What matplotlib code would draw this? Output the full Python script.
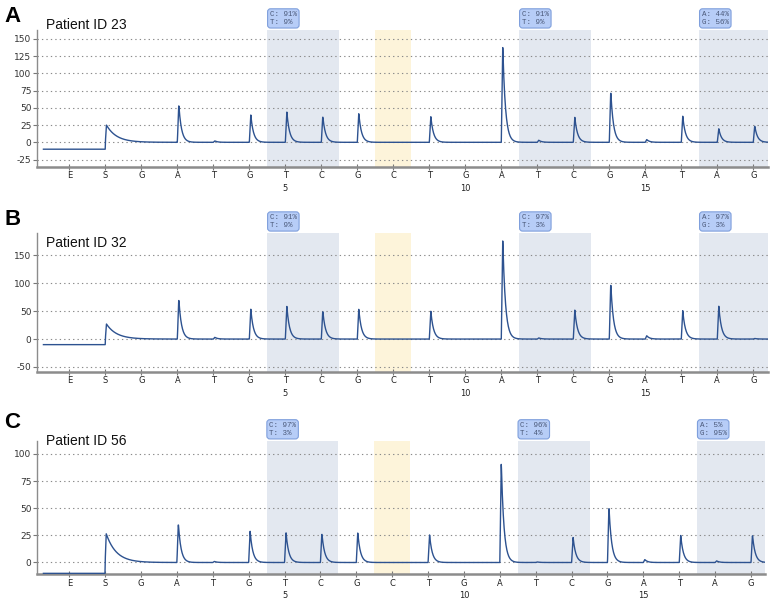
import numpy as np
import matplotlib
matplotlib.use("Agg")
import matplotlib.pyplot as plt
import matplotlib.transforms as mtransforms

# dispensation order (E = enzyme, S = substrate, then positions 1..18)
dispensation = ['E', 'S', 'G', 'A', 'T', 'G', 'T', 'C', 'G', 'C',
                'T', 'G', 'A', 'T', 'C', 'G', 'A', 'T', 'A', 'G']
disp_pos = list(range(-1, 19))
number_ticks = [5, 10, 15]

patients = ['Patient ID 23', 'Patient ID 32', 'Patient ID 56']
panel_letters = ['A', 'B', 'C']

# baseline before substrate and substrate peak
baseline_start = [-10, -10, -10]
substrate_peak = [25, 27, 26.5]

# peak heights at dispensations 1..18
peaks_23 = [0, 55, 2, 40, 45, 38, 42, 0, 38, 0, 140, 3, 37, 74, 4, 38, 20, 24]
peaks_32 = [0, 72, 3, 54, 60, 51, 54, 0, 51, 0, 179, 2, 53, 100, 6, 51, 60, 1]
peaks_56 = [0, 36, 1, 29, 28, 27, 27.5, 0, 26, 0, 92, 0.5, 23.5, 51.5, 2.7, 25, 1.5, 25.5]
all_peaks = [peaks_23, peaks_32, peaks_56]

# variable positions (gray) and bisulfite control (yellow)
var_spans = [(4.5, 6.5), (11.5, 13.5), (16.5, 18.5)]
ctrl_span = (7.5, 8.5)

labels_23 = ['C: 91%\nT: 9%', 'C: 91%\nT: 9%', 'A: 44%\nG: 56%']
labels_32 = ['C: 91%\nT: 9%', 'C: 97%\nT: 3%', 'A: 97%\nG: 3%']
labels_56 = ['C: 97%\nT: 3%', 'C: 96%\nT: 4%', 'A: 5%\nG: 95%']
all_labels = [labels_23, labels_32, labels_56]

y_ticks = [np.arange(-25, 151, 25), np.arange(-50, 151, 50), np.arange(0, 101, 25)]
y_lims = [(-36, 163), (-59, 190), (-11, 112)]

# layout: [left, bottom, width, height] in figure fraction
axes_rects = [[0.048, 0.721, 0.949, 0.229],
              [0.048, 0.379, 0.949, 0.232],
              [0.048, 0.041, 0.946, 0.223]]
title_offsets = [1, -10, -3]
letter_y = [0.990, 0.651, 0.313]


def pyrogram_trace(start, sub, peaks):
    """Build the pyrogram trace from peak heights."""
    x = np.linspace(-1.72, 18.4, 4000)
    y = np.where(x < 0, start, 0.0)
    t = x - 0.0
    m = t >= 0
    y[m] += sub * np.minimum(t[m] / 0.03, 1) * np.exp(-np.maximum(t[m] - 0.03, 0) / 0.28)
    for i, h in enumerate(peaks):
        t = x - (i + 1)
        m = t >= 0
        y[m] += h * np.minimum(t[m] / 0.04, 1) * np.exp(-np.maximum(t[m] - 0.04, 0) / 0.075)
    return x, y


fig = plt.figure(figsize=(7.7, 5.99), dpi=100)

for k in range(3):
    ax = fig.add_axes(axes_rects[k])
    ax.set_xlim(-1.9, 18.4)
    ax.set_ylim(*y_lims[k])

    for a, b in var_spans:
        ax.axvspan(a, b, color='#e3e8f0', zorder=0, lw=0)
    ax.axvspan(*ctrl_span, color='#fdf4da', zorder=0, lw=0)

    for yt in y_ticks[k]:
        ax.axhline(yt, color='#8a8a8a', lw=0.8, ls=(0, (1.2, 2.8)), zorder=1)

    x, y = pyrogram_trace(baseline_start[k], substrate_peak[k], all_peaks[k])
    ax.plot(x, y, color='#2d5290', lw=1.0, zorder=3)

    # tick labels: dispensed nucleotide, plus position numbers below
    ax.set_xticks(disp_pos)
    ax.set_xticklabels(dispensation, fontsize=6, color='#222222')
    xtrans = mtransforms.blended_transform_factory(ax.transData, ax.transAxes)
    for p in number_ticks:
        ax.annotate(str(p), xy=(p, 0), xycoords=xtrans, xytext=(0, -12),
                    textcoords='offset points', ha='center', va='top',
                    fontsize=6, color='#222222', annotation_clip=False)
    ax.set_yticks(y_ticks[k])
    ax.set_yticklabels([str(v) for v in y_ticks[k]], fontsize=6.5, color='#333333')
    ax.tick_params(axis='x', direction='inout', length=5, width=0.8, color='#777777', pad=0.5)
    ax.tick_params(axis='y', direction='out', length=3, width=0.8, color='#777777', pad=1)

    for s in ['top', 'right']:
        ax.spines[s].set_visible(False)
    ax.spines['bottom'].set_color('#8c8c8c')
    ax.spines['bottom'].set_linewidth(1.8)
    ax.spines['left'].set_color('#8c8c8c')
    ax.spines['left'].set_linewidth(1.0)

    # allele percentage boxes
    for (a, b), lab in zip(var_spans, all_labels[k]):
        ax.annotate(lab, xy=(a, 1.0), xycoords=xtrans, xytext=(1.8, 3.0),
                    textcoords='offset points', ha='left', va='bottom',
                    fontsize=5.4, family='Liberation Mono', color='#4a5878',
                    linespacing=1.15, annotation_clip=False,
                    bbox=dict(boxstyle='round,pad=0.3,rounding_size=0.4',
                              fc='#b7cdf7', ec='#7f9fdc', lw=0.8))

    ax.annotate(patients[k], xy=(0.013, 1.0), xycoords='axes fraction',
                xytext=(0, title_offsets[k]), textcoords='offset points',
                ha='left', va='baseline', fontsize=10, family='Liberation Sans',
                color='#111111')

    fig.text(0.006, letter_y[k], panel_letters[k], fontsize=16, fontweight='bold',
             family='Liberation Sans', ha='left', va='top')

fig.savefig('out.png', dpi=100)
